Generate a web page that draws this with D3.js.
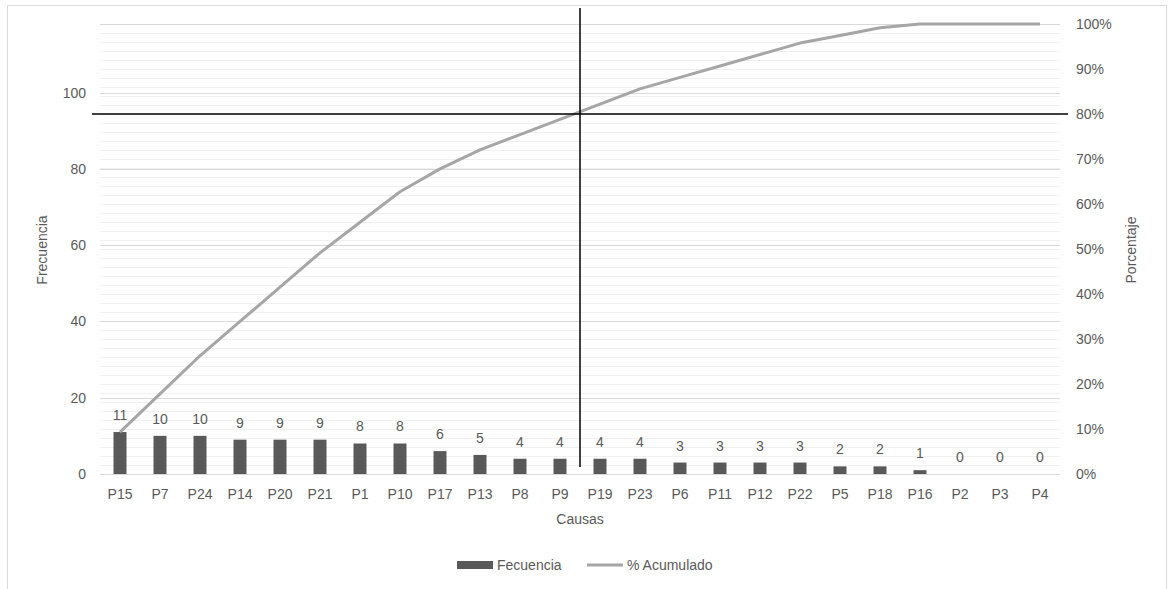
<!DOCTYPE html>
<html><head><meta charset="utf-8">
<script src="https://cdn.jsdelivr.net/npm/d3@7/dist/d3.min.js"></script>
<style>
html,body{margin:0;padding:0;background:#fff;}
text{font-family:"Liberation Sans",Arial,sans-serif;fill:#595959;}
</style></head>
<body>
<svg id="chart" width="1171" height="589"></svg>
<script>
const categories = ["P15","P7","P24","P14","P20","P21","P1","P10","P17","P13","P8","P9","P19","P23","P6","P11","P12","P22","P5","P18","P16","P2","P3","P4"];
const frecuencia = [11,10,10,9,9,9,8,8,6,5,4,4,4,4,3,3,3,3,2,2,1,0,0,0];
const acumulado = [0.0932,0.1780,0.2627,0.3390,0.4153,0.4915,0.5593,0.6271,0.6780,0.7203,0.7542,0.7881,0.8220,0.8559,0.8814,0.9068,0.9322,0.9576,0.9746,0.9915,1,1,1,1];
const leftTicks = [0,20,40,60,80,100];
const rightTicks = [0,0.1,0.2,0.3,0.4,0.5,0.6,0.7,0.8,0.9,1];
const threshold = 0.8;
const cutAfter = "P9";

const svg = d3.select("#chart");
const L = 100, R = 1060, T = 24, B = 474;
const FS = "14px";

svg.append("rect").attr("x",7.5).attr("y",5.5).attr("width",1159).attr("height",600)
  .attr("fill","#fff").attr("stroke","#d9d9d9").attr("stroke-width",1);

const x = d3.scaleBand().domain(categories).range([L,R]).padding(0);
const yL = d3.scaleLinear().domain([0, d3.sum(frecuencia)]).range([B,T]);
const yR = d3.scaleLinear().domain([0,1]).range([B,T]);

// minor gridlines (right axis every 2%)
const minor = d3.range(0,51).map(i=>i/50);
svg.append("g").selectAll("line").data(minor).join("line")
  .attr("x1",L).attr("x2",R).attr("y1",d=>Math.round(yR(d))+0.5).attr("y2",d=>Math.round(yR(d))+0.5)
  .attr("stroke","#f0f0f0").attr("stroke-width",1);
// major gridlines (left axis)
svg.append("g").selectAll("line").data(leftTicks.concat([d3.sum(frecuencia)])).join("line")
  .attr("x1",L).attr("x2",R).attr("y1",d=>Math.round(yL(d))+0.5).attr("y2",d=>Math.round(yL(d))+0.5)
  .attr("stroke","#d9d9d9").attr("stroke-width",1);

// axes
const axL = d3.axisLeft(yL).tickValues(leftTicks).tickSize(0).tickPadding(14);
const gL = svg.append("g").attr("transform",`translate(${L},0)`).call(axL);
gL.select(".domain").remove();
gL.selectAll("text").style("font-size",FS).style("font-family","Liberation Sans, Arial").attr("fill","#595959");

const axR = d3.axisRight(yR).tickValues(rightTicks).tickFormat(d3.format(".0%")).tickSize(0).tickPadding(16);
const gR = svg.append("g").attr("transform",`translate(${R},0)`).call(axR);
gR.select(".domain").remove();
gR.selectAll("text").style("font-size",FS).style("font-family","Liberation Sans, Arial").attr("fill","#595959");

const axB = d3.axisBottom(x).tickSize(0).tickPadding(15);
const gB = svg.append("g").attr("transform",`translate(0,${B})`).call(axB);
gB.select(".domain").attr("stroke","#d9d9d9");
gB.selectAll("text").style("font-size",FS).style("font-family","Liberation Sans, Arial").attr("fill","#595959");

// bars
const bw = 13;
svg.append("g").selectAll("rect").data(frecuencia).join("rect")
  .attr("x",(d,i)=>x(categories[i])+x.bandwidth()/2-bw/2)
  .attr("y",d=>yL(d)).attr("width",bw).attr("height",d=>B-yL(d))
  .attr("fill","#595959");

// data labels
svg.append("g").selectAll("text").data(frecuencia).join("text")
  .attr("x",(d,i)=>x(categories[i])+x.bandwidth()/2)
  .attr("y",d=>yL(d)-12).attr("text-anchor","middle")
  .style("font-size",FS).text(d=>d);

// cumulative line
const line = d3.line().x((d,i)=>x(categories[i])+x.bandwidth()/2).y(d=>yR(d));
svg.append("path").datum(acumulado).attr("d",line).attr("fill","none")
  .attr("stroke","#a6a6a6").attr("stroke-width",3).attr("stroke-linejoin","round");

// crosshair
const cx = x(cutAfter)+x.bandwidth();
svg.append("line").attr("x1",cx).attr("x2",cx).attr("y1",8).attr("y2",467)
  .attr("stroke","#000").attr("stroke-width",1.5);
svg.append("line").attr("x1",92).attr("x2",1068).attr("y1",yR(threshold)).attr("y2",yR(threshold))
  .attr("stroke","#000").attr("stroke-width",1.5);

// titles
svg.append("text").attr("transform","translate(47,250) rotate(-90)").attr("text-anchor","middle")
  .style("font-size","14px").text("Frecuencia");
svg.append("text").attr("transform","translate(1136,250) rotate(-90)").attr("text-anchor","middle")
  .style("font-size","14px").text("Porcentaje");
svg.append("text").attr("x",(L+R)/2).attr("y",524).attr("text-anchor","middle")
  .style("font-size","14px").text("Causas");

// legend
const lg = svg.append("g");
lg.append("rect").attr("x",457).attr("y",561).attr("width",36).attr("height",8).attr("fill","#595959");
lg.append("text").attr("x",497).attr("y",570).style("font-size","14px").text("Fecuencia");
lg.append("line").attr("x1",587).attr("x2",623).attr("y1",565).attr("y2",565).attr("stroke","#a6a6a6").attr("stroke-width",3);
lg.append("text").attr("x",627).attr("y",570).style("font-size","14px").text("% Acumulado");
</script>
</body></html>
